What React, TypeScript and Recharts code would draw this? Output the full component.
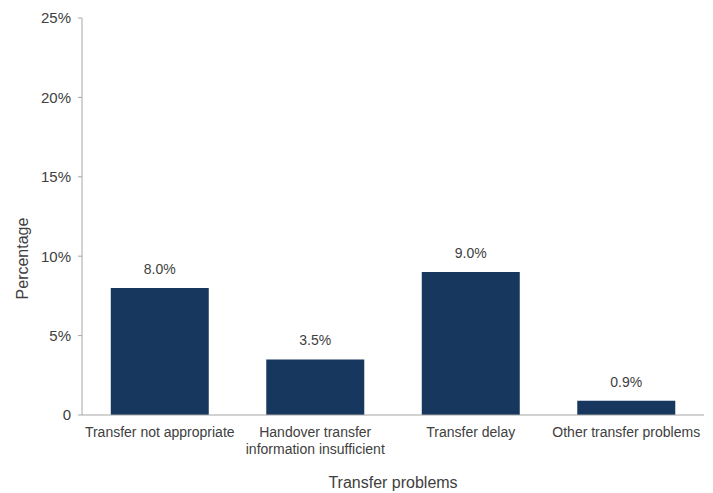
import React from "react";
import { BarChart, Bar, XAxis, YAxis, LabelList } from "recharts";

const categories = [
  "Transfer not appropriate",
  "Handover transfer\ninformation insufficient",
  "Transfer delay",
  "Other transfer problems",
];
const values = [8.0, 3.5, 9.0, 0.9];
const yTicks = [0, 5, 10, 15, 20, 25];

const data = categories.map((c, i) => ({ name: c, value: values[i] }));

const FONT = "'Liberation Sans', Arial, sans-serif";
const TEXT = "#404040";
const AXIS = "#a6a6a6";

const XTick = (props: any) => {
  const { x, y, payload } = props;
  const lines = String(payload.value).split("\n");
  return (
    <g transform={`translate(${x},${y})`}>
      {lines.map((l: string, i: number) => (
        <text
          key={i}
          x={0}
          y={0}
          dy={14 + i * 17}
          textAnchor="middle"
          fill={TEXT}
          fontSize={14}
          fontFamily={FONT}
        >
          {l}
        </text>
      ))}
    </g>
  );
};

const YTitle = (props: any) => {
  const vb = props.viewBox || {};
  const cx = (vb.x ?? 0) + 22;
  const cy = (vb.y ?? 0) + (vb.height ?? 0) / 2 + 42;
  return (
    <text
      x={cx}
      y={cy}
      transform={`rotate(-90, ${cx}, ${cy})`}
      textAnchor="middle"
      dominantBaseline="central"
      fill={TEXT}
      fontSize={16}
      fontFamily={FONT}
    >
      Percentage
    </text>
  );
};

export default function App() {
  return (
    <div style={{ position: "absolute", left: 0, top: 0, background: "#fff" }}>
      <BarChart
        width={713}
        height={493}
        data={data}
        margin={{ top: 18, right: 9, bottom: 48, left: 0 }}
        barCategoryGap="18.5%"
      >
        <XAxis
          dataKey="name"
          height={30}
          tick={<XTick />}
          tickLine={false}
          axisLine={{ stroke: AXIS }}
          interval={0}
          label={{
            value: "Transfer problems",
            position: "insideBottom",
            offset: -43,
            fill: TEXT,
            fontSize: 16,
            fontFamily: FONT,
          }}
        />
        <YAxis
          width={82}
          domain={[0, 25]}
          ticks={yTicks}
          interval={0}
          tickFormatter={(v: number) => (v === 0 ? "0" : `${v}%`)}
          tick={{ fill: TEXT, fontSize: 15, fontFamily: FONT }}
          tickLine={{ stroke: AXIS }}
          tickSize={4}
          tickMargin={7}
          axisLine={{ stroke: AXIS }}
          label={<YTitle />}
        />
        <Bar dataKey="value" fill="#17375e" isAnimationActive={false}>
          <LabelList
            dataKey="value"
            position="top"
            offset={14}
            formatter={(v: number) => `${v.toFixed(1)}%`}
            fill={TEXT}
            fontSize={14}
            fontFamily={FONT}
          />
        </Bar>
      </BarChart>
    </div>
  );
}
